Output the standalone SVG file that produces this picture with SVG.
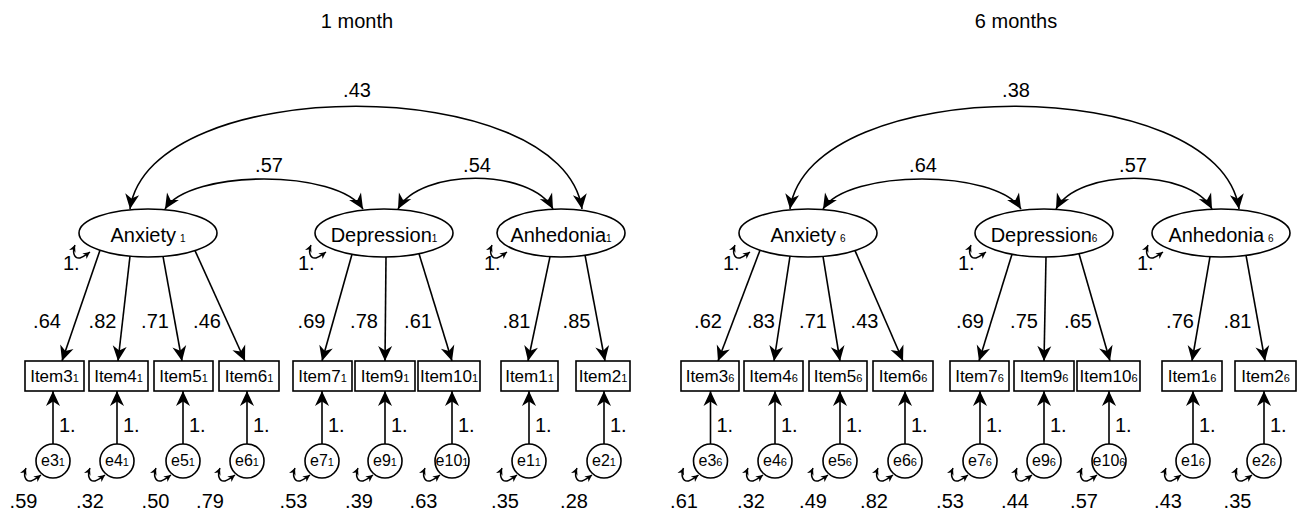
<svg xmlns="http://www.w3.org/2000/svg" xmlns:xlink="http://www.w3.org/1999/xlink" width="1302" height="514" viewBox="0 0 1302 514">
<style>
text{font-family:"Liberation Sans",Arial,sans-serif;fill:#000}
.title{font-size:20px;text-anchor:middle}
.lat{font-size:20px;text-anchor:middle}
.item{font-size:17px;text-anchor:middle}
.err{font-size:16px;text-anchor:middle}
.lbl{font-size:20px}
.mid{text-anchor:middle}
.s{font-size:11px}
.sl{font-size:10px}
.shape{fill:#fff;stroke:#000;stroke-width:1.6}
.cn{fill:none;stroke:#000;stroke-width:1.6;marker-end:url(#ah)}
.cc{fill:none;stroke:#000;stroke-width:1.6;marker-start:url(#ah);marker-end:url(#ah)}
.vl{fill:none;stroke:#000;stroke-width:1.5;marker-start:url(#sh);marker-end:url(#sh)}
</style>
<defs>
<marker id="ah" viewBox="-16 -8 16 16" refX="0" refY="0" markerWidth="16" markerHeight="16" markerUnits="userSpaceOnUse" orient="auto-start-reverse"><path d="M0,0 L-15,-7 L-10.5,0 L-15,7 Z" fill="#000"/></marker>
<marker id="sh" viewBox="-8 -4 8 8" refX="0" refY="0" markerWidth="8" markerHeight="8" markerUnits="userSpaceOnUse" orient="auto-start-reverse"><path d="M0,0 L-7,-3.5 L-5,0 L-7,3.5 Z" fill="#000"/></marker>
<path id="vloop" class="vl" d="M0,0 C -3,7 -1,14 5,13 C 8,12 11,10 15,7"/>
</defs>

<text class="title" x="357" y="28">1 month</text>
<text class="title" x="1016" y="28">6 months</text>

<g id="connectors">
<!-- covariances, 1 month -->
<path class="cc" d="M130,209 C150,72 562,72 582,209"/>
<path class="cc" d="M165,209 C190,169 338,169 363,209"/>
<path class="cc" d="M398,209 C420,168 531,168 553,209"/>
<!-- covariances, 6 months -->
<path class="cc" d="M790,209 C810,72 1219,72 1239,209"/>
<path class="cc" d="M823,209 C848,169 996,169 1021,209"/>
<path class="cc" d="M1056,209 C1078,168 1190,168 1212,209"/>
<!-- loadings, 1 month -->
<path class="cn" d="M100,250.2 L62,361"/>
<path class="cn" d="M130,256.2 L118,361"/>
<path class="cn" d="M163,256.4 L182,361"/>
<path class="cn" d="M195,250.6 L245,361"/>
<path class="cn" d="M352,254.3 L322,361"/>
<path class="cn" d="M386,257 L385,361"/>
<path class="cn" d="M419,253.7 L452,361"/>
<path class="cn" d="M550,256.6 L528,361"/>
<path class="cn" d="M585,255.2 L605,361"/>
<!-- loadings, 6 months -->
<path class="cn" d="M760,250.2 L718,361"/>
<path class="cn" d="M790,256.2 L774,361"/>
<path class="cn" d="M823,256.4 L840,361"/>
<path class="cn" d="M855,250.6 L903,361"/>
<path class="cn" d="M1012,254.3 L979,361"/>
<path class="cn" d="M1046,257 L1044,361"/>
<path class="cn" d="M1079,253.7 L1110,361"/>
<path class="cn" d="M1210,256.7 L1192,361"/>
<path class="cn" d="M1246,255.1 L1265,361"/>
<!-- error paths, 1 month -->
<path class="cn" d="M53,444 L53,391"/>
<path class="cn" d="M117,444 L117,391"/>
<path class="cn" d="M183,444 L183,391"/>
<path class="cn" d="M247,444 L247,391"/>
<path class="cn" d="M322,444 L322,391"/>
<path class="cn" d="M385,444 L385,391"/>
<path class="cn" d="M452,444 L452,391"/>
<path class="cn" d="M529,444 L529,391"/>
<path class="cn" d="M604,444 L604,391"/>
<!-- error paths, 6 months -->
<path class="cn" d="M710.5,444 L710.5,391"/>
<path class="cn" d="M775,444 L775,391"/>
<path class="cn" d="M840,444 L840,391"/>
<path class="cn" d="M905,444 L905,391"/>
<path class="cn" d="M980,444 L980,391"/>
<path class="cn" d="M1044,444 L1044,391"/>
<path class="cn" d="M1109,444 L1109,391"/>
<path class="cn" d="M1193,444 L1193,391"/>
<path class="cn" d="M1264,444 L1264,391"/>
<!-- variance loops -->
<use xlink:href="#vloop" x="75" y="245"/>
<use xlink:href="#vloop" x="311" y="245"/>
<use xlink:href="#vloop" x="492" y="245"/>
<use xlink:href="#vloop" x="735" y="245"/>
<use xlink:href="#vloop" x="971" y="245"/>
<use xlink:href="#vloop" x="1148" y="245"/>
<use xlink:href="#vloop" x="26" y="468"/>
<use xlink:href="#vloop" x="90" y="468"/>
<use xlink:href="#vloop" x="156" y="468"/>
<use xlink:href="#vloop" x="220" y="468"/>
<use xlink:href="#vloop" x="295" y="468"/>
<use xlink:href="#vloop" x="358" y="468"/>
<use xlink:href="#vloop" x="425" y="468"/>
<use xlink:href="#vloop" x="502" y="468"/>
<use xlink:href="#vloop" x="577" y="468"/>
<use xlink:href="#vloop" x="683.5" y="468"/>
<use xlink:href="#vloop" x="748" y="468"/>
<use xlink:href="#vloop" x="813" y="468"/>
<use xlink:href="#vloop" x="878" y="468"/>
<use xlink:href="#vloop" x="953" y="468"/>
<use xlink:href="#vloop" x="1017" y="468"/>
<use xlink:href="#vloop" x="1082" y="468"/>
<use xlink:href="#vloop" x="1166" y="468"/>
<use xlink:href="#vloop" x="1237" y="468"/>
</g>

<g id="connector-labels">
<text class="lbl mid" x="357" y="97">.43</text>
<text class="lbl mid" x="269" y="172">.57</text>
<text class="lbl mid" x="477" y="172">.54</text>
<text class="lbl mid" x="1016" y="97">.38</text>
<text class="lbl mid" x="923" y="172">.64</text>
<text class="lbl mid" x="1133" y="172">.57</text>
<text class="lbl mid" x="47" y="328">.64</text>
<text class="lbl mid" x="102.5" y="328">.82</text>
<text class="lbl mid" x="155" y="328">.71</text>
<text class="lbl mid" x="207" y="328">.46</text>
<text class="lbl mid" x="311.5" y="328">.69</text>
<text class="lbl mid" x="364" y="328">.78</text>
<text class="lbl mid" x="418" y="328">.61</text>
<text class="lbl mid" x="516.5" y="328">.81</text>
<text class="lbl mid" x="576.5" y="328">.85</text>
<text class="lbl mid" x="708" y="328">.62</text>
<text class="lbl mid" x="761" y="328">.83</text>
<text class="lbl mid" x="813" y="328">.71</text>
<text class="lbl mid" x="864.5" y="328">.43</text>
<text class="lbl mid" x="970" y="328">.69</text>
<text class="lbl mid" x="1024" y="328">.75</text>
<text class="lbl mid" x="1078" y="328">.65</text>
<text class="lbl mid" x="1180" y="328">.76</text>
<text class="lbl mid" x="1237.5" y="328">.81</text>
<text class="lbl" x="59" y="432">1.</text>
<text class="lbl" x="123" y="432">1.</text>
<text class="lbl" x="189" y="432">1.</text>
<text class="lbl" x="253" y="432">1.</text>
<text class="lbl" x="328" y="432">1.</text>
<text class="lbl" x="391" y="432">1.</text>
<text class="lbl" x="458" y="432">1.</text>
<text class="lbl" x="535" y="432">1.</text>
<text class="lbl" x="610" y="432">1.</text>
<text class="lbl" x="716.5" y="432">1.</text>
<text class="lbl" x="781" y="432">1.</text>
<text class="lbl" x="846" y="432">1.</text>
<text class="lbl" x="911" y="432">1.</text>
<text class="lbl" x="986" y="432">1.</text>
<text class="lbl" x="1050" y="432">1.</text>
<text class="lbl" x="1115" y="432">1.</text>
<text class="lbl" x="1199" y="432">1.</text>
<text class="lbl" x="1270" y="432">1.</text>
<text class="lbl" x="63" y="270">1.</text>
<text class="lbl" x="298" y="270">1.</text>
<text class="lbl" x="484" y="270">1.</text>
<text class="lbl" x="723" y="270">1.</text>
<text class="lbl" x="958" y="270">1.</text>
<text class="lbl" x="1137" y="270">1.</text>
<text class="lbl mid" x="23.5" y="508">.59</text>
<text class="lbl mid" x="90" y="508">.32</text>
<text class="lbl mid" x="155.5" y="508">.50</text>
<text class="lbl mid" x="210" y="508">.79</text>
<text class="lbl mid" x="293.5" y="508">.53</text>
<text class="lbl mid" x="359" y="508">.39</text>
<text class="lbl mid" x="423.5" y="508">.63</text>
<text class="lbl mid" x="505" y="508">.35</text>
<text class="lbl mid" x="574" y="508">.28</text>
<text class="lbl mid" x="684" y="508">.61</text>
<text class="lbl mid" x="751" y="508">.32</text>
<text class="lbl mid" x="813" y="508">.49</text>
<text class="lbl mid" x="874" y="508">.82</text>
<text class="lbl mid" x="950" y="508">.53</text>
<text class="lbl mid" x="1015" y="508">.44</text>
<text class="lbl mid" x="1084" y="508">.57</text>
<text class="lbl mid" x="1168" y="508">.43</text>
<text class="lbl mid" x="1237.5" y="508">.35</text>
</g>

<!-- latent variables -->
<g id="anxiety1"><ellipse class="shape" cx="148" cy="233" rx="69" ry="24"/><text class="lat" x="148" y="242">Anxiety<tspan class="sl" dx="4">1</tspan></text></g>
<g id="depression1"><ellipse class="shape" cx="384" cy="233" rx="69" ry="24"/><text class="lat" x="384" y="242">Depression<tspan class="sl">1</tspan></text></g>
<g id="anhedonia1"><ellipse class="shape" cx="561" cy="233" rx="64" ry="24"/><text class="lat" x="561" y="242">Anhedonia<tspan class="sl">1</tspan></text></g>
<g id="anxiety6"><ellipse class="shape" cx="808" cy="233" rx="69" ry="24"/><text class="lat" x="808" y="242">Anxiety<tspan class="sl" dx="4">6</tspan></text></g>
<g id="depression6"><ellipse class="shape" cx="1044" cy="233" rx="69" ry="24"/><text class="lat" x="1044" y="242">Depression<tspan class="sl">6</tspan></text></g>
<g id="anhedonia6"><ellipse class="shape" cx="1221" cy="233" rx="69" ry="24"/><text class="lat" x="1221" y="242">Anhedonia<tspan class="sl" dx="4">6</tspan></text></g>

<!-- observed items, 1 month -->
<g id="item3_1"><rect class="shape" x="25" y="361" width="59" height="30"/><text class="item" x="54.5" y="382">Item3<tspan class="s">1</tspan></text></g>
<g id="item4_1"><rect class="shape" x="89" y="361" width="59" height="30"/><text class="item" x="118.5" y="382">Item4<tspan class="s">1</tspan></text></g>
<g id="item5_1"><rect class="shape" x="154" y="361" width="59" height="30"/><text class="item" x="183.5" y="382">Item5<tspan class="s">1</tspan></text></g>
<g id="item6_1"><rect class="shape" x="219" y="361" width="60" height="30"/><text class="item" x="249" y="382">Item6<tspan class="s">1</tspan></text></g>
<g id="item7_1"><rect class="shape" x="293" y="361" width="59" height="30"/><text class="item" x="322.5" y="382">Item7<tspan class="s">1</tspan></text></g>
<g id="item9_1"><rect class="shape" x="355" y="361" width="60" height="30"/><text class="item" x="385" y="382">Item9<tspan class="s">1</tspan></text></g>
<g id="item10_1"><rect class="shape" x="418" y="361" width="62" height="30"/><text class="item" x="449" y="382">Item10<tspan class="s">1</tspan></text></g>
<g id="item1_1"><rect class="shape" x="501" y="361" width="57" height="30"/><text class="item" x="529.5" y="382">Item1<tspan class="s">1</tspan></text></g>
<g id="item2_1"><rect class="shape" x="576" y="361" width="54" height="30"/><text class="item" x="603" y="382">Item2<tspan class="s">1</tspan></text></g>

<!-- observed items, 6 months -->
<g id="item3_6"><rect class="shape" x="681" y="361" width="58" height="30"/><text class="item" x="710" y="382">Item3<tspan class="s">6</tspan></text></g>
<g id="item4_6"><rect class="shape" x="744" y="361" width="59" height="30"/><text class="item" x="773.5" y="382">Item4<tspan class="s">6</tspan></text></g>
<g id="item5_6"><rect class="shape" x="809" y="361" width="58" height="30"/><text class="item" x="838" y="382">Item5<tspan class="s">6</tspan></text></g>
<g id="item6_6"><rect class="shape" x="873" y="361" width="60" height="30"/><text class="item" x="903" y="382">Item6<tspan class="s">6</tspan></text></g>
<g id="item7_6"><rect class="shape" x="950" y="361" width="59" height="30"/><text class="item" x="979.5" y="382">Item7<tspan class="s">6</tspan></text></g>
<g id="item9_6"><rect class="shape" x="1014" y="361" width="60" height="30"/><text class="item" x="1044" y="382">Item9<tspan class="s">6</tspan></text></g>
<g id="item10_6"><rect class="shape" x="1077" y="361" width="63" height="30"/><text class="item" x="1108.5" y="382">Item10<tspan class="s">6</tspan></text></g>
<g id="item1_6"><rect class="shape" x="1162" y="361" width="60" height="30"/><text class="item" x="1192" y="382">Item1<tspan class="s">6</tspan></text></g>
<g id="item2_6"><rect class="shape" x="1235" y="361" width="61" height="30"/><text class="item" x="1265.5" y="382">Item2<tspan class="s">6</tspan></text></g>

<!-- error terms, 1 month -->
<g id="e3_1"><circle class="shape" cx="53" cy="461" r="17"/><text class="err" x="53" y="466">e3<tspan class="s">1</tspan></text></g>
<g id="e4_1"><circle class="shape" cx="117" cy="461" r="17"/><text class="err" x="117" y="466">e4<tspan class="s">1</tspan></text></g>
<g id="e5_1"><circle class="shape" cx="183" cy="461" r="17"/><text class="err" x="183" y="466">e5<tspan class="s">1</tspan></text></g>
<g id="e6_1"><circle class="shape" cx="247" cy="461" r="17"/><text class="err" x="247" y="466">e6<tspan class="s">1</tspan></text></g>
<g id="e7_1"><circle class="shape" cx="322" cy="461" r="17"/><text class="err" x="322" y="466">e7<tspan class="s">1</tspan></text></g>
<g id="e9_1"><circle class="shape" cx="385" cy="461" r="17"/><text class="err" x="385" y="466">e9<tspan class="s">1</tspan></text></g>
<g id="e10_1"><circle class="shape" cx="452" cy="461" r="17"/><text class="err" x="452" y="466">e10<tspan class="s">1</tspan></text></g>
<g id="e1_1"><circle class="shape" cx="529" cy="461" r="17"/><text class="err" x="529" y="466">e1<tspan class="s">1</tspan></text></g>
<g id="e2_1"><circle class="shape" cx="604" cy="461" r="17"/><text class="err" x="604" y="466">e2<tspan class="s">1</tspan></text></g>

<!-- error terms, 6 months -->
<g id="e3_6"><circle class="shape" cx="710.5" cy="461" r="17"/><text class="err" x="710.5" y="466">e3<tspan class="s">6</tspan></text></g>
<g id="e4_6"><circle class="shape" cx="775" cy="461" r="17"/><text class="err" x="775" y="466">e4<tspan class="s">6</tspan></text></g>
<g id="e5_6"><circle class="shape" cx="840" cy="461" r="17"/><text class="err" x="840" y="466">e5<tspan class="s">6</tspan></text></g>
<g id="e6_6"><circle class="shape" cx="905" cy="461" r="17"/><text class="err" x="905" y="466">e6<tspan class="s">6</tspan></text></g>
<g id="e7_6"><circle class="shape" cx="980" cy="461" r="17"/><text class="err" x="980" y="466">e7<tspan class="s">6</tspan></text></g>
<g id="e9_6"><circle class="shape" cx="1044" cy="461" r="17"/><text class="err" x="1044" y="466">e9<tspan class="s">6</tspan></text></g>
<g id="e10_6"><circle class="shape" cx="1109" cy="461" r="17"/><text class="err" x="1109" y="466">e10<tspan class="s">6</tspan></text></g>
<g id="e1_6"><circle class="shape" cx="1193" cy="461" r="17"/><text class="err" x="1193" y="466">e1<tspan class="s">6</tspan></text></g>
<g id="e2_6"><circle class="shape" cx="1264" cy="461" r="17"/><text class="err" x="1264" y="466">e2<tspan class="s">6</tspan></text></g>
</svg>
